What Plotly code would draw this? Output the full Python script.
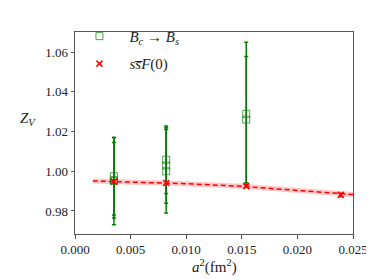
import plotly.graph_objects as go

# Green: B_c -> B_s
bc_a2 = [0.0035, 0.0035, 0.0035, 0.0082, 0.0082, 0.0082, 0.0154, 0.0154]
bc_zv = [0.9975, 0.9955, 0.9950, 1.0058, 1.0029, 1.0000, 1.0289, 1.0260]
bc_err = [0.0195, 0.0190, 0.0220, 0.0170, 0.0190, 0.0210, 0.0361, 0.0318]

# Red: s sbar F(0)
ss_a2 = [0.0035, 0.0082, 0.0154, 0.0239]
ss_zv = [0.9948, 0.9941, 0.9925, 0.9881]
ss_err = [0.0006, 0.0006, 0.0007, 0.0009]

# Fit curve
fit_a2 = [0.0016, 0.005, 0.010, 0.015, 0.020, 0.025]
fit_zv = [0.9951, 0.9946, 0.9937, 0.9924, 0.9905, 0.9883]

x_ticks = [0.000, 0.005, 0.010, 0.015, 0.020, 0.025]
y_ticks = [0.98, 1.00, 1.02, 1.04, 1.06]

font = "Liberation Serif"
tickfont = dict(family=font, size=13, color="#222")

fig = go.Figure()

fig.add_trace(go.Scatter(x=fit_a2, y=fit_zv, mode="lines",
                         line=dict(color="rgba(255,0,0,0.22)", width=5),
                         showlegend=False, hoverinfo="skip"))
fig.add_trace(go.Scatter(x=fit_a2, y=fit_zv, mode="lines",
                         line=dict(color="red", width=1.5, dash="5px,3px"),
                         showlegend=False))

fig.add_trace(go.Scatter(
    x=bc_a2, y=bc_zv, mode="markers", legendgroup="g1",
    name="<i>B</i><sub><i>c</i></sub> → <i>B</i><sub><i>s</i></sub>",
    marker=dict(symbol="square-open", size=7, color="rgba(0,128,0,0.7)", line=dict(width=1)),
    error_y=dict(type="data", array=bc_err, color="green", thickness=1.5, width=2),
))
fig.add_trace(go.Scatter(
    x=ss_a2, y=ss_zv, mode="markers", legendgroup="g2",
    name="<i>s</i><i>s\u0305</i><i>F</i>(0)",
    marker=dict(symbol="x-thin", size=6, color="red", line=dict(width=1.5, color="red")),
    error_y=dict(type="data", array=ss_err, color="red", thickness=1.2, width=2.5),
))

fig.add_annotation(text="<i>Z</i><sub><i>V</i></sub>", xref="paper", yref="paper",
                   x=-0.17, y=0.57, xanchor="center", yanchor="middle", showarrow=False,
                   font=dict(size=15, family=font, color="#222"))
fig.add_annotation(text="<i>a</i><sup>2</sup>(fm<sup>2</sup>)", xref="paper", yref="paper",
                   x=0.5, y=-0.16, yanchor="middle", showarrow=False,
                   font=dict(size=15, family=font, color="#222"))

fig.update_layout(
    width=374, height=280,
    margin=dict(l=67, r=29, t=15, b=54),
    plot_bgcolor="white", paper_bgcolor="white",
    font=dict(family=font, size=13, color="#222"),
    showlegend=True,
    legend=dict(x=-0.02, y=1.06, xanchor="left", yanchor="top",
                bgcolor="rgba(255,255,255,0)", borderwidth=0,
                font=dict(size=15, family=font), itemwidth=50, tracegroupgap=5),
    xaxis=dict(range=[0, 0.025], tickvals=x_ticks, ticktext=[f"{v:.3f}" for v in x_ticks],
               tickfont=tickfont,
               showgrid=False, zeroline=False, showline=True, mirror=True,
               linecolor="#555", linewidth=1, ticks="outside", ticklen=3.5, tickcolor="#555"),
    yaxis=dict(range=[0.9684, 1.0701], tickvals=y_ticks, ticktext=[f"{v:.2f}" for v in y_ticks],
               tickfont=tickfont,
               showgrid=False, zeroline=False, showline=True, mirror=True,
               linecolor="#555", linewidth=1, ticks="outside", ticklen=3.5, tickcolor="#555"),
)

fig.write_html("out.html")
